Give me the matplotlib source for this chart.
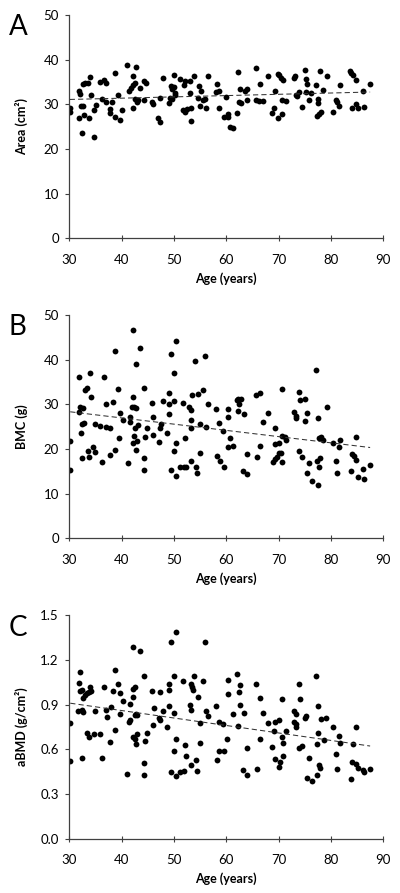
import numpy as np
import matplotlib.pyplot as plt

plt.rcParams['font.family'] = ['Lato', 'DejaVu Sans']

# panel A: age vs area (cm2)
age_a = [30.1, 30.1, 31.8, 32.1, 31.8, 32.2, 32.6, 32.4, 32.7, 33.1, 33.5, 32.9, 33.7, 34.0, 34.1, 34.8,
         35.2, 34.7, 35.9, 36.6, 37.0, 36.2, 37.1, 38.2, 37.8, 37.8, 38.7, 38.8, 39.4, 39.7, 40.1, 41.1,
         41.5, 41.8, 42.1, 42.1, 42.2, 42.8, 42.5, 42.5, 42.9, 43.0, 43.2, 43.5, 44.3, 44.6, 44.3, 45.8,
         46.1, 47.0, 47.4, 47.9, 47.3, 49.0, 49.2, 49.6, 49.4, 49.7, 50.0, 50.2, 50.2, 50.0, 51.2, 51.7,
         52.2, 52.5, 52.0, 52.2, 53.0, 53.1, 53.2, 53.3, 53.9, 54.6, 54.8, 55.1, 55.0, 55.5, 55.9, 56.2,
         56.6, 58.2, 58.0, 58.6, 58.7, 59.5, 60.0, 60.3, 60.4, 60.7, 61.3, 62.2, 62.1, 62.6, 62.5, 62.9,
         63.6, 63.9, 63.9, 65.7, 66.5, 65.7, 66.3, 67.1, 67.9, 68.8, 69.3, 69.1, 69.9, 70.1, 70.4, 70.8,
         69.9, 70.6, 70.6, 71.4, 72.9, 73.2, 73.3, 73.6, 74.4, 73.9, 75.1, 75.2, 75.4, 75.2, 75.9, 76.2,
         77.1, 77.5, 77.6, 77.4, 77.7, 78.0, 78.1, 78.5, 79.2, 80.4, 80.9, 81.2, 81.6, 81.7, 83.6, 83.8,
         84.3, 84.8, 84.1, 84.8, 85.2, 86.2, 86.4, 87.5]
area = [29.3, 28.4, 32.9, 32.4, 26.9, 29.6, 29.6, 23.6, 34.6, 34.9, 34.9, 27.7, 27.0, 36.1, 32.1, 22.7,
        29.8, 28.8, 35.0, 35.4, 34.9, 31.3, 30.5, 30.5, 28.9, 28.1, 27.2, 37.0, 32.0, 26.6, 28.7, 38.8,
        33.0, 33.7, 34.3, 29.3, 36.3, 38.3, 34.8, 31.3, 30.9, 30.5, 30.9, 33.7, 35.2, 34.8, 30.9, 30.5,
        30.1, 27.0, 26.0, 35.9, 31.4, 30.3, 31.5, 31.2, 34.1, 33.5, 34.0, 32.6, 32.0, 36.5, 35.6, 28.7,
        28.4, 29.0, 34.4, 35.2, 35.2, 32.5, 29.2, 26.2, 36.3, 31.4, 34.1, 33.0, 29.7, 31.0, 31.3, 29.1,
        36.4, 34.6, 32.8, 33.0, 29.2, 27.2, 31.6, 27.2, 27.8, 24.9, 24.8, 37.3, 28.1, 33.5, 30.5, 30.4,
        33.1, 33.4, 31.0, 38.2, 34.5, 30.9, 30.7, 30.7, 36.3, 28.1, 33.0, 29.2, 36.9, 36.5, 35.8, 35.4,
        27.0, 27.9, 30.9, 30.7, 36.0, 36.3, 32.0, 31.8, 29.4, 32.7, 37.8, 35.7, 34.6, 32.7, 31.0, 32.5,
        34.3, 31.2, 30.3, 27.5, 27.9, 37.5, 28.3, 33.3, 36.3, 28.4, 30.9, 30.5, 29.7, 34.4, 37.5, 37.0,
        36.6, 35.4, 29.3, 30.0, 29.3, 33.1, 29.4, 34.6]

# panel B: age vs BMC (g)
age_b = [30.2, 31.9, 31.8, 32.0, 32.7, 32.3, 32.5, 32.8, 33.0, 33.4, 34.0, 34.1, 35.0, 35.9, 36.6, 37.0,
         37.1, 37.8, 38.3, 38.8, 39.4, 39.8, 40.2, 39.6, 41.6, 41.7, 42.0, 42.4, 42.7, 42.2, 42.1, 42.8,
         43.5, 42.5, 43.1, 42.4, 43.0, 42.2, 44.3, 44.8, 44.4, 45.8, 46.1, 46.0, 47.3, 47.5, 47.2, 47.9,
         48.7, 49.0, 49.0, 49.1, 49.4, 50.0, 50.1, 50.4, 50.5, 51.7, 52.2, 52.9, 53.3, 53.3, 53.2, 53.5,
         54.0, 54.6, 55.5, 55.0, 55.9, 56.2, 56.6, 58.0, 58.7, 59.4, 60.4, 60.4, 60.7, 62.0, 62.2, 62.5,
         62.9, 62.2, 63.4, 65.7, 66.4, 67.1, 67.9, 69.4, 70.6, 70.7, 71.2, 71.5, 72.9, 73.3, 73.4, 73.9,
         74.1, 75.0, 75.0, 75.4, 77.1, 77.6, 77.8, 78.2, 78.5, 79.2, 80.4, 81.7, 84.8,
         30.2, 32.4, 33.5, 33.8, 34.6, 34.9, 36.2, 37.8, 38.7, 41.2, 42.8, 44.3, 44.3, 49.4, 50.1, 50.4,
         51.1, 51.9, 52.4, 53.2, 54.3, 54.5, 55.0, 58.2, 58.8, 59.5, 60.3, 61.3, 63.3, 64.0, 63.9, 65.8,
         66.4, 68.9, 69.4, 69.8, 70.0, 70.4, 69.3, 70.1, 70.7, 73.9, 74.5, 75.4, 75.9, 76.3, 77.4, 77.6,
         77.8, 78.0, 80.9, 81.1, 81.6, 83.8, 84.1, 84.4, 84.8, 85.2, 86.1, 86.3, 87.5]
bmc = [21.9, 36.2, 28.2, 29.3, 29.1, 23.6, 25.6, 25.9, 33.2, 33.6, 37.0, 31.7, 25.6, 25.2, 36.2, 30.1,
       25.0, 24.8, 30.6, 42.0, 33.4, 28.0, 26.5, 22.4, 26.1, 27.2, 29.5, 29.3, 29.1, 46.7, 31.6, 39.1,
       42.7, 24.8, 25.4, 23.0, 21.7, 21.4, 33.7, 24.7, 22.7, 30.4, 27.1, 23.1, 24.8, 25.6, 21.6, 30.7,
       23.6, 32.5, 30.1, 27.8, 41.2, 37.1, 30.8, 21.4, 44.3, 30.4, 22.4, 29.3, 28.7, 26.5, 24.8, 32.2,
       39.8, 32.3, 33.2, 25.6, 40.9, 25.0, 30.1, 29.0, 25.9, 24.1, 29.0, 27.2, 22.4, 31.0, 31.3, 30.1,
       31.3, 28.4, 27.8, 32.0, 32.5, 26.0, 28.1, 24.8, 33.4, 23.0, 22.7, 22.1, 28.3, 27.5, 26.9, 32.8,
       31.0, 31.2, 26.3, 28.1, 37.7, 27.0, 22.4, 22.7, 22.1, 29.5, 21.4, 22.1, 22.6,
       15.3, 18.0, 19.6, 18.3, 20.4, 19.4, 17.2, 18.7, 19.8, 16.9, 19.8, 17.9, 15.3, 15.4, 19.6, 14.0,
       16.0, 15.9, 15.9, 17.4, 16.0, 14.7, 19.2, 18.4, 17.4, 16.0, 20.5, 20.7, 15.1, 14.4, 18.9, 18.1,
       20.7, 17.2, 17.7, 18.1, 19.0, 19.0, 21.2, 21.4, 17.2, 19.6, 18.3, 14.7, 16.9, 12.9, 17.4, 12.0,
       16.0, 17.9, 17.4, 14.7, 20.5, 15.1, 18.9, 18.5, 17.5, 13.7, 15.5, 13.2, 16.4]

# panel C: age vs aBMD (g/cm2)
age_c = [30.2, 31.8, 32.0, 32.4, 32.0, 31.7, 32.4, 32.7, 32.7, 33.0, 33.4, 33.7, 34.1, 34.0, 33.4, 33.8,
         34.7, 34.9, 35.9, 36.6, 37.0, 37.3, 37.8, 37.9, 38.3, 38.8, 38.8, 39.4, 39.8, 39.7, 40.2, 41.5,
         41.7, 41.7, 42.2, 42.1, 42.1, 42.5, 42.5, 42.7, 43.0, 42.2, 42.5, 42.7, 43.0, 43.5, 44.3, 44.4,
         44.8, 45.8, 46.0, 46.2, 47.2, 47.4, 47.4, 47.9, 48.7, 49.0, 49.0, 49.1, 49.4, 50.0, 50.1, 50.5,
         50.4, 51.7, 52.2, 53.0, 53.3, 53.3, 53.4, 53.6, 53.9, 54.6, 55.0, 55.0, 55.5, 55.9, 56.2, 56.6,
         58.0, 58.7, 59.4, 60.2, 60.4, 60.4, 61.3, 62.1, 62.5, 62.6, 62.6, 62.2, 63.4, 63.9, 65.7, 66.4,
         66.4, 67.1, 67.9, 68.8, 69.4, 70.0, 69.2, 70.6, 70.7, 70.8, 71.5, 72.9, 73.3, 73.4, 73.0, 73.4,
         73.9, 74.1, 75.0, 75.2, 77.1, 77.6, 77.6, 77.4, 78.1, 79.0, 78.7, 80.4, 81.6, 81.7, 84.3, 84.8,
         30.2, 32.4, 36.2, 41.1, 44.3, 44.3, 49.4, 50.1, 50.4, 51.1, 51.9, 52.4, 53.2, 54.3, 54.5, 58.2,
         58.7, 59.5, 63.3, 64.0, 65.8, 69.4, 70.0, 70.3, 70.8, 73.9, 74.5, 75.4, 76.3, 75.9, 77.4, 77.8,
         78.0, 80.9, 81.1, 83.8, 84.1, 84.8, 85.2, 86.1, 86.3, 87.5]
abmd = [0.776, 1.047, 0.995, 1.000, 1.123, 0.859, 0.864, 0.850, 0.947, 0.963, 0.977, 0.988, 0.995, 1.022,
        0.711, 0.683, 0.701, 0.859, 0.701, 1.022, 0.868, 0.819, 0.650, 0.886, 0.995, 1.135, 0.729, 1.038,
        0.977, 0.837, 0.927, 0.785, 0.796, 0.902, 1.288, 0.950, 1.008, 1.017, 0.830, 0.841, 0.830, 0.683,
        0.672, 0.634, 0.706, 1.263, 1.094, 0.654, 0.711, 0.995, 0.765, 0.880, 0.814, 0.796, 0.988, 0.857,
        0.753, 1.040, 1.000, 0.889, 1.320, 1.094, 0.846, 1.387, 0.670, 1.058, 0.632, 0.898, 0.864, 1.040,
        1.022, 1.000, 1.094, 0.950, 0.778, 0.643, 1.058, 1.320, 0.859, 0.826, 0.891, 0.783, 0.769, 0.668,
        1.067, 0.972, 0.839, 1.105, 0.988, 1.033, 0.898, 0.756, 0.846, 0.611, 1.040, 0.943, 0.672, 0.846,
        0.778, 0.616, 0.785, 0.796, 0.724, 0.936, 0.683, 0.643, 0.724, 0.785, 0.774, 0.751, 0.857, 0.841,
        1.038, 0.936, 0.814, 0.826, 1.096, 0.891, 0.713, 0.638, 0.805, 0.812, 0.661, 0.751, 0.690, 0.643,
        0.634, 0.753,
        0.521, 0.539, 0.544, 0.436, 0.508, 0.431, 0.447, 0.587, 0.418, 0.447, 0.458, 0.555, 0.492, 0.530,
        0.458, 0.530, 0.587, 0.587, 0.463, 0.425, 0.470, 0.533, 0.483, 0.517, 0.555, 0.611, 0.622, 0.409,
        0.391, 0.544, 0.431, 0.497, 0.476, 0.566, 0.470, 0.398, 0.515, 0.499, 0.476, 0.463, 0.447, 0.470]

letters = ['A', 'B', 'C']
ylabels = ['Area (cm²)', 'BMC (g)', 'aBMD (g/cm²)']
yticks = [[0, 10, 20, 30, 40, 50], [0, 10, 20, 30, 40, 50], [0.0, 0.3, 0.6, 0.9, 1.2, 1.5]]
xticks = [30, 40, 50, 60, 70, 80, 90]

fig = plt.figure(figsize=(4, 8.93), dpi=100)
bottoms = [0.7331, 0.3972, 0.0608]
data = [(age_a, area), (age_b, bmc), (age_c, abmd)]

for k in range(3):
    ax = fig.add_axes([0.173, bottoms[k], 0.785, 0.250])
    x, y = np.array(data[k][0]), np.array(data[k][1])
    ax.plot(x, y, 'o', color='black', markersize=4.2, markeredgewidth=0)
    p = np.polyfit(x, y, 1)
    xl = np.array([x.min(), x.max()])
    ax.plot(xl, np.polyval(p, xl), color='#333333', lw=0.75, dashes=(5, 3))
    ax.set_xlim(30, 90)
    ax.set_ylim(yticks[k][0], yticks[k][-1])
    ax.set_xticks(xticks)
    ax.set_yticks(yticks[k])
    if k == 2:
        ax.set_yticklabels(['%.1f' % v for v in yticks[k]])
    for s in ['top', 'right']:
        ax.spines[s].set_visible(False)
    for s in ['left', 'bottom']:
        ax.spines[s].set_color('#404040')
        ax.spines[s].set_linewidth(0.9)
    ax.tick_params(axis='y', direction='out', length=3, width=0.8, color='#404040', labelsize=9.5, pad=4.5)
    ax.tick_params(axis='x', direction='inout', length=4, width=0.8, color='#404040', labelsize=9.5, pad=9)
    ax.set_xlabel('Age (years)', fontsize=9, fontweight='bold')
    ax.set_ylabel(ylabels[k], fontsize=9, fontweight='bold')
    ax.xaxis.set_label_coords(0.5, -0.152)
    ax.yaxis.set_label_coords(-0.13, 0.5)
    fig.text(0.022, bottoms[k] + 0.251, letters[k], fontsize=20, va='top', ha='left')

fig.savefig('out.png', dpi=100)
